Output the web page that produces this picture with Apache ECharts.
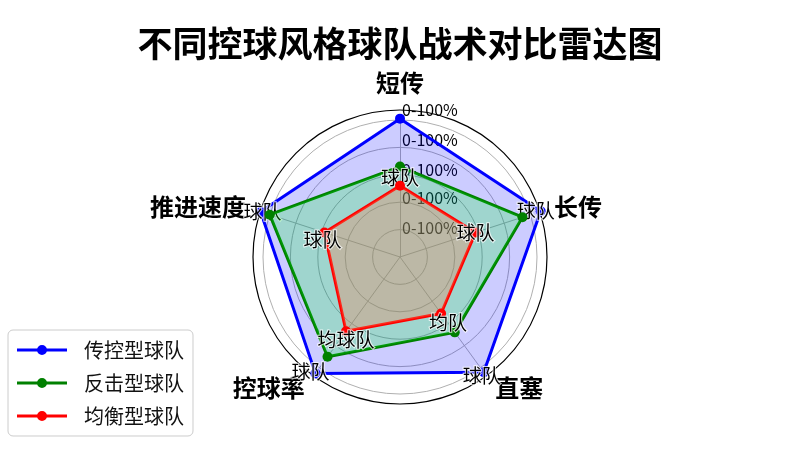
<!DOCTYPE html>
<html>
<head>
<meta charset="utf-8">
<script src="https://cdn.jsdelivr.net/npm/echarts@6/dist/echarts.min.js"></script>
<style>html,body{margin:0;padding:0;background:#fff}#c{width:800px;height:450px}</style>
</head>
<body>
<div id="c"></div>
<script>
// ECharts radar goes counter-clockwise from the top
const indicators = ['短传', '推进速度', '控球率', '直塞', '长传'];
const seriesNames = ['传控型球队', '反击型球队', '均衡型球队'];
const possession = [101, 107, 105, 104, 108];
const counter = [66, 100, 90, 68, 94];
const balanced = [52, 58, 67, 51, 58];
const possessionLabels = ['', '球队', '球队', '球队', '球队'];
const counterLabels = ['球队', '', '', '', ''];
const balancedLabels = ['', '球队', '均球队', '均队', '球队'];
const tickLabel = '0-100%';
const axisMax = 100;

const colors = ['#0000ff', '#008000', '#ff0000'];
const fillColors = ['rgb(0,0,255)', 'rgb(0,245,30)', 'rgb(250,125,80)'];
const fillOpacity = [0.2, 0.22, 0.32];
const FONT = '"Noto Sans CJK SC", "Noto Sans", sans-serif';
// label nudges [dx, dy] per series per vertex
const shifts = [
  [[0,0],[2,0],[-5,-2],[-2,4],[-5,0]],
  [[0,11],[0,0],[0,0],[0,0],[0,0]],
  [[0,0],[-2,7],[0,9],[7,9],[0,0]]
];
// upward nudge of tick labels by ring
const tickLift = { 20: 2, 40: 4, 60: 5, 80: 7, 100: 10 };
const labelSets = [possessionLabels, counterLabels, balancedLabels];
const valueSets = [possession, counter, balanced];

function makeRich(si) {
  const rich = {};
  shifts[si].forEach((s, i) => {
    const dx = s[0], dy = s[1];
    rich['d' + i] = {
      fontSize: 19, color: '#000', fontFamily: FONT,
      textBorderColor: 'rgba(255,255,255,0.75)', textBorderWidth: 2,
      padding: [Math.max(0, 2*dy), Math.max(0, -2*dx), Math.max(0, -2*dy), Math.max(0, 2*dx)]
    };
  });
  return rich;
}
const tickRich = {};
Object.keys(tickLift).forEach(k => {
  tickRich['t' + k] = { fontSize: 16, color: '#000', fontFamily: FONT, padding: [0, 0, 2 * tickLift[k], 0] };
});

const series = valueSets.map((vals, si) => ({
  type: 'radar',
  radarIndex: 0,
  name: seriesNames[si],
  symbol: 'circle',
  symbolSize: 10,
  z: 2 + si,
  itemStyle: { color: colors[si] },
  lineStyle: { color: colors[si], width: 3 },
  areaStyle: { color: fillColors[si], opacity: fillOpacity[si] },
  label: {
    show: true,
    position: 'inside',
    formatter: p => {
      const t = labelSets[si][p.dimensionIndex];
      return t ? '{d' + p.dimensionIndex + '|' + t + '}' : '';
    },
    rich: makeRich(si)
  },
  data: [{ value: vals, name: seriesNames[si] }]
}));

const chart = echarts.init(document.getElementById('c'));
chart.setOption({
  backgroundColor: '#fff',
  animation: false,
  color: colors,
  title: {
    text: '不同控球风格球队战术对比雷达图',
    left: 'center', top: 21,
    textStyle: { fontSize: 35, fontWeight: 'bold', color: '#000', fontFamily: FONT }
  },
  legend: {
    orient: 'vertical',
    left: 8, top: 330,
    data: seriesNames,
    icon: 'path://M0,4.5H50V7.5H0Z M30,6A5,5 0 1 1 20,6A5,5 0 1 1 30,6Z',
    itemWidth: 50, itemHeight: 10,
    itemGap: 13,
    padding: [10, 9, 10, 9],
    borderColor: '#cccccc', borderWidth: 1, borderRadius: 5,
    backgroundColor: '#fff',
    textStyle: { fontSize: 20, color: '#111', fontFamily: FONT, padding: [0, 0, 0, 12] }
  },
  radar: [
    {
      center: [400, 257],
      radius: 137,
      shape: 'circle',
      splitNumber: 5,
      startAngle: 90,
      nameGap: 25,
      axisName: { color: '#000', fontSize: 24, fontWeight: 'bold', fontFamily: FONT },
      splitLine: { lineStyle: { color: '#b0b0b0', width: 1 } },
      splitArea: { show: false },
      axisLine: { lineStyle: { color: '#b0b0b0', width: 1 } },
      axisTick: { show: false },
      axisLabel: { show: false },
      indicator: indicators.map((n, i) => i === 0 ? {
        name: n, max: axisMax, min: 0,
        axisLabel: {
          show: true, margin: -2, align: 'left', verticalAlign: 'middle',
          color: '#000', fontSize: 16, fontFamily: FONT,
          formatter: v => v === 0 ? '' : '{t' + v + '|' + tickLabel + '}',
          rich: tickRich
        }
      } : { name: n, max: axisMax, min: 0 })
    },
    {
      center: [400, 257],
      radius: 147,
      shape: 'circle',
      splitNumber: 1,
      startAngle: 90,
      axisName: { show: false },
      splitLine: { lineStyle: { color: '#000', width: 1.2 } },
      splitArea: { show: false },
      axisLine: { show: false },
      axisTick: { show: false },
      axisLabel: { show: false },
      indicator: indicators.map(n => ({ name: '', max: axisMax, min: 0 }))
    }
  ],
  series: series
});
</script>
</body>
</html>
